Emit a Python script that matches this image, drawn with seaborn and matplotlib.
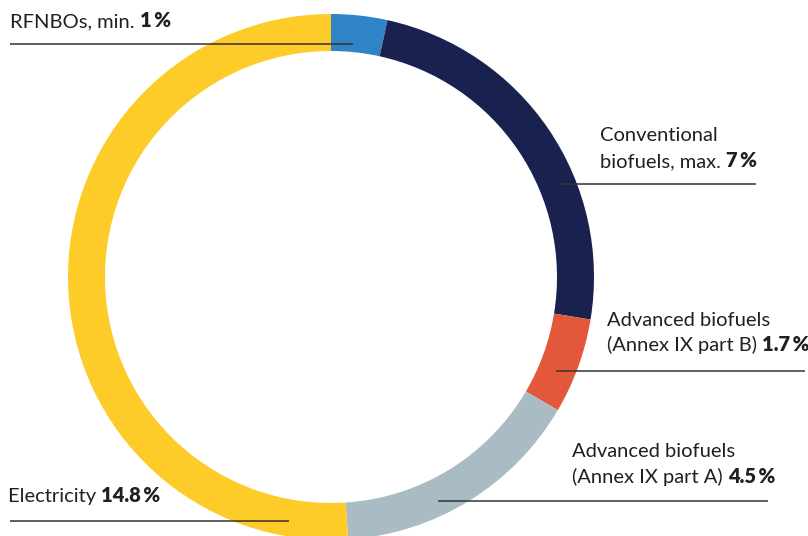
import matplotlib
matplotlib.use("Agg")
import matplotlib.pyplot as plt
import seaborn as sns

sns.set_theme(style="white")
plt.rcParams['font.family'] = ['Lato', 'DejaVu Sans']

categories = ["RFNBOs", "Conventional biofuels", "Advanced biofuels (Annex IX part B)",
              "Advanced biofuels (Annex IX part A)", "Electricity"]
values = [1.0, 7.0, 1.7, 4.5, 14.8]
label_regular = [["RFNBOs, min. "],
                 ["Conventional", "biofuels, max. "],
                 ["Advanced biofuels", "(Annex IX part B) "],
                 ["Advanced biofuels", "(Annex IX part A) "],
                 ["Electricity "]]
label_bold = ["1\u2009%", "7\u2009%", "1.7\u2009%", "4.5\u2009%", "14.8\u2009%"]
colors = ["#2E84C6", "#19214F", "#E3573B", "#A9BCC4", "#FDCC29"]

W, H = 808, 536
fig = plt.figure(figsize=(W / 100, H / 100), dpi=100)
ax = fig.add_axes([0, 0, 1, 1])

def Y(py):
    return H - py

cx, cy, R, ring = 331, 277, 263, 37
ax.pie(values, colors=colors, startangle=90, counterclock=False,
       radius=R, center=(cx, Y(cy)), wedgeprops=dict(width=ring, linewidth=0))
ax.set_xlim(0, W)
ax.set_ylim(0, H)
ax.set_aspect('auto')
ax.axis('off')

# label layout: (x, [baselines], line y, line x0, line x1)
layout = [
    (10, [27], 43.5, 10, 353),
    (600, [141, 167], 184, 560, 756),
    (607, [326, 351], 371, 556, 805),
    (572, [457, 483], 501, 438, 768),
    (8, [502], 520.5, 10, 289),
]

fs = 14.5
tc = "#231F20"
fig.canvas.draw()
renderer = fig.canvas.get_renderer()
for regs, bold, (x, bls, ly, lx0, lx1) in zip(label_regular, label_bold, layout):
    t = None
    for reg, bl in zip(regs, bls):
        t = ax.text(x, Y(bl), reg, fontsize=fs, color=tc, va='baseline', ha='left')
    bb = t.get_window_extent(renderer=renderer)
    x2 = ax.transData.inverted().transform((bb.x1, 0))[0]
    ax.text(x2, Y(bls[-1]), bold, fontsize=fs, color=tc, va='baseline', ha='left',
            fontweight='heavy')
    ax.plot([lx0, lx1], [Y(ly), Y(ly)], color="#333333", linewidth=1.1, solid_capstyle='butt')

fig.savefig("out.png", dpi=100)
